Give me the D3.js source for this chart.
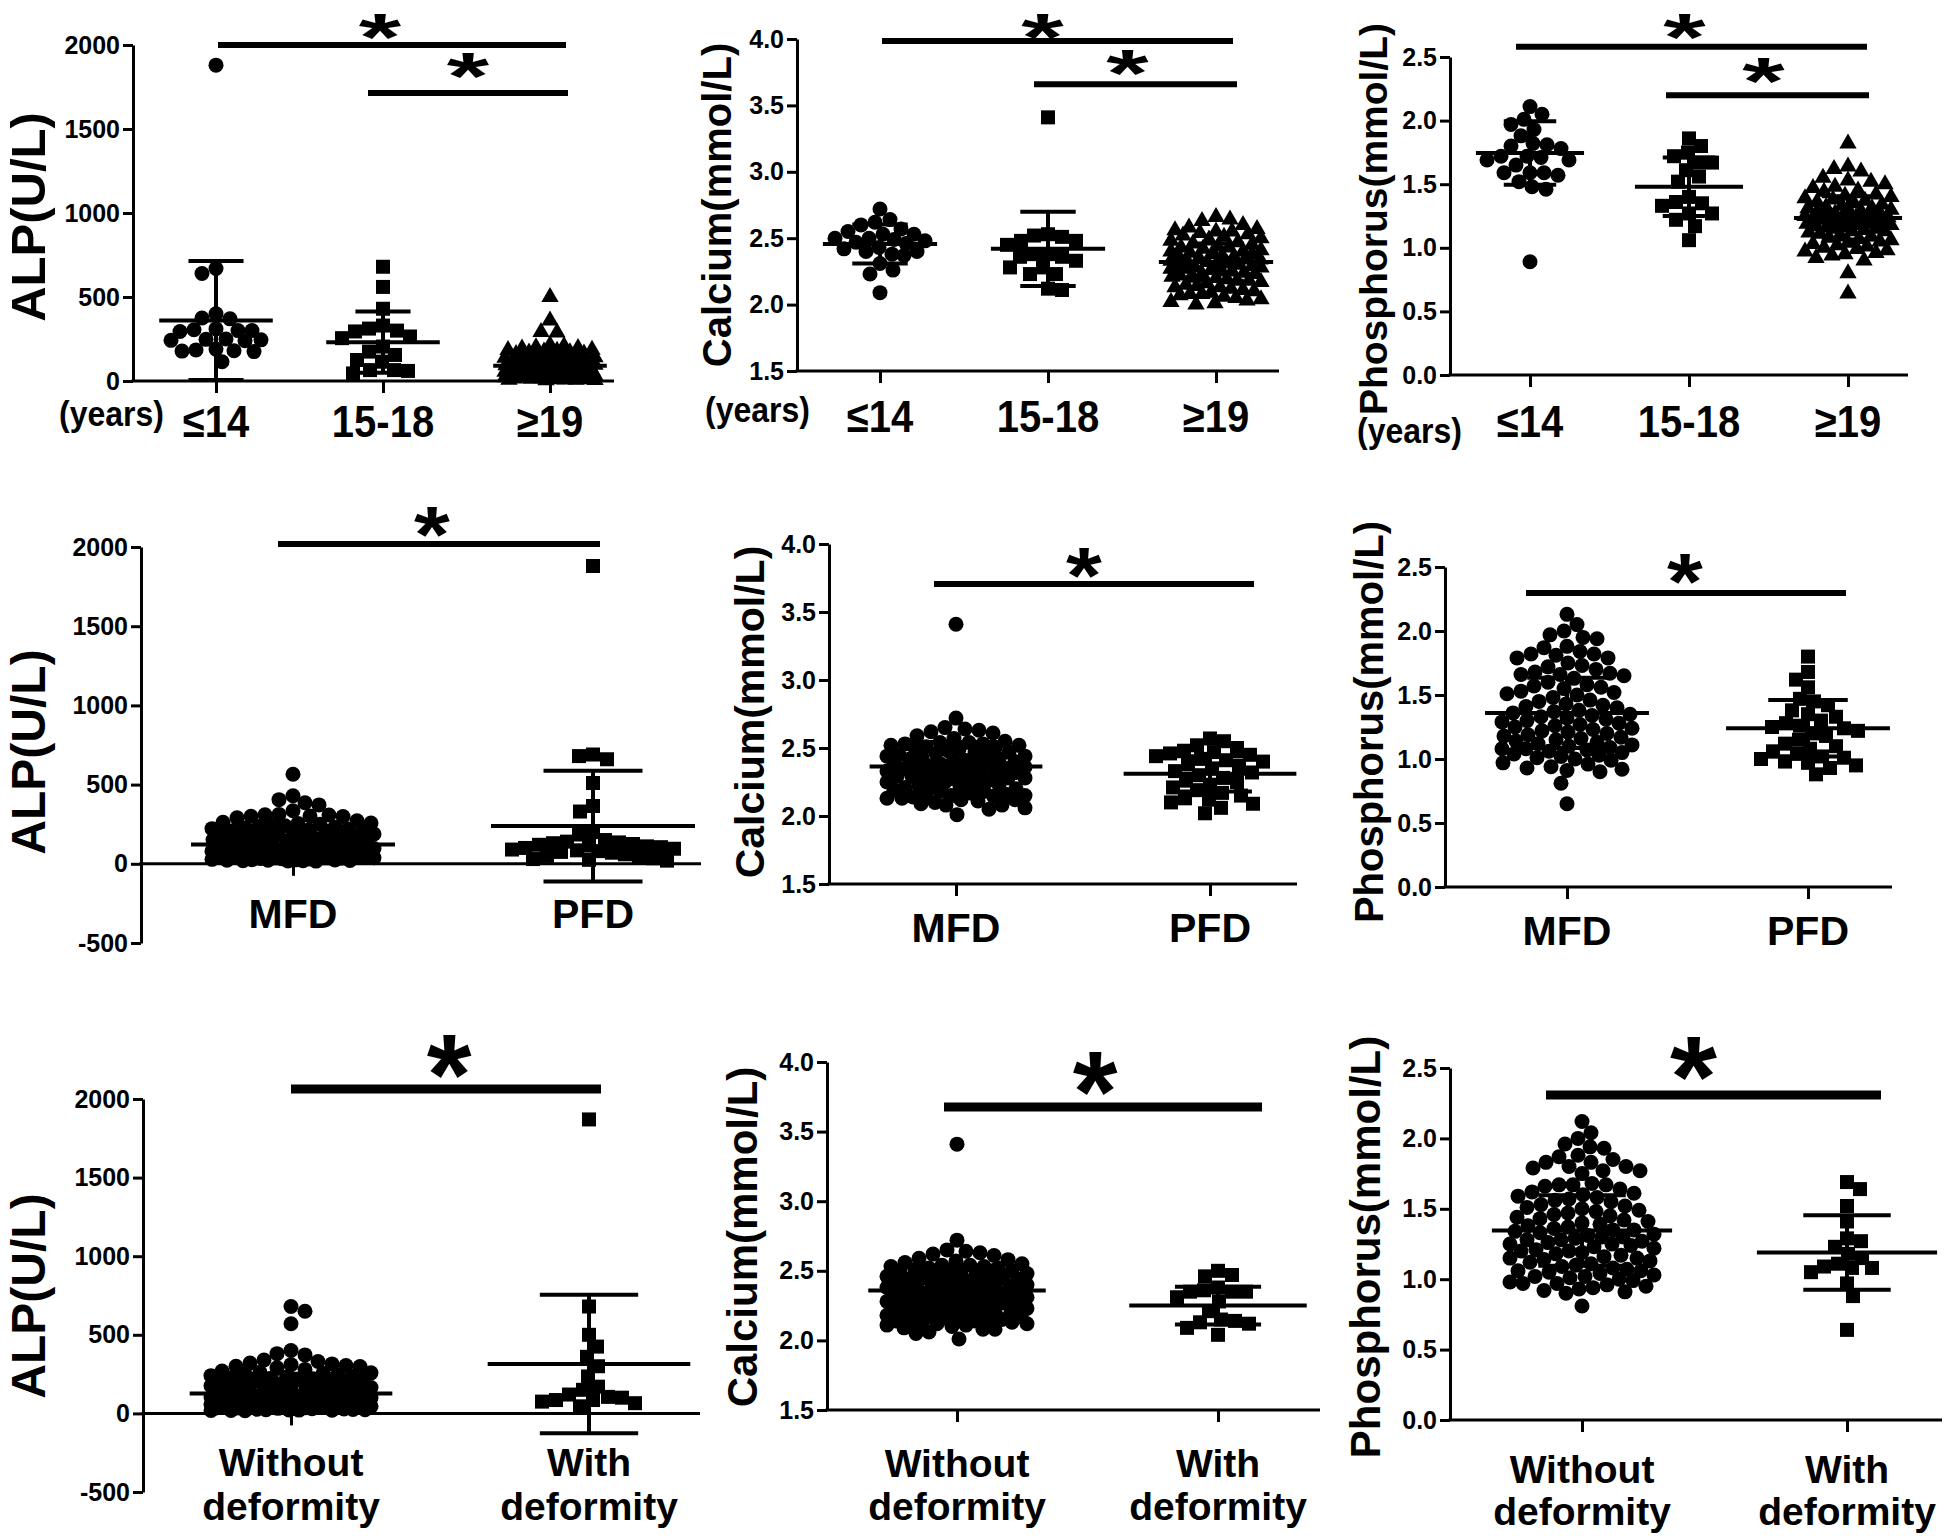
<!DOCTYPE html>
<html><head><meta charset="utf-8">
<script src="https://cdn.jsdelivr.net/npm/d3@7"></script>
<style>
body{margin:0;background:#fff}
svg text{font-family:"Liberation Sans",Arial,Helvetica,sans-serif;font-weight:bold;fill:#000}
</style>
</head><body>
<svg id="c" width="1946" height="1536"></svg>
<script>
// ---------------- DATA ----------------
const ageCats = ["≤14", "15-18", "≥19"];
const typeCats = ["MFD", "PFD"];
const defCats = [["Without", "deformity"], ["With", "deformity"]];

// ALP by age
const alpLe14 = [1880, 670, 640, 400, 375, 370, 310, 305, 300, 300, 295, 250, 248, 245, 242, 240, 190, 185, 180, 178, 175, 115];
const alp1518 = [680, 560, 430, 330, 312, 300, 295, 265, 255, 205, 175, 155, 125, 115, 65, 65, 60, 45];
const alpGe19 = [500, 360, 292, 288, 215, 208, 201, 197, 193, 186, 184, 180, 176, 171, 169, 163, 160, 157, 152, 149, 146, 141, 138, 134, 131, 127, 124, 121, 117, 113, 110, 107, 103, 99, 97, 94, 90, 87, 85, 82, 79, 76, 74, 71, 68, 65, 63, 61, 58, 55, 53, 51, 48, 46, 44, 41, 39, 37, 35, 33, 31, 29, 27, 26, 24, 22, 21, 19, 18, 16, 15, 13, 12, 11, 10, 9, 8, 7, 6, 5];
// Calcium by age
const caLe14 = [2.72, 2.64, 2.62, 2.60, 2.57, 2.55, 2.53, 2.53, 2.50, 2.50, 2.49, 2.48, 2.47, 2.46, 2.43, 2.42, 2.40, 2.40, 2.38, 2.37, 2.31, 2.26, 2.23, 2.09];
const ca1518 = [3.41, 2.53, 2.52, 2.51, 2.48, 2.48, 2.45, 2.38, 2.38, 2.36, 2.36, 2.33, 2.28, 2.28, 2.23, 2.23, 2.12, 2.11];
const caGe19 = [2.66, 2.64, 2.63, 2.60, 2.58, 2.57, 2.56, 2.55, 2.55, 2.54, 2.53, 2.52, 2.51, 2.50, 2.49, 2.48, 2.47, 2.46, 2.45, 2.44, 2.43, 2.43, 2.42, 2.41, 2.40, 2.39, 2.38, 2.38, 2.37, 2.36, 2.35, 2.34, 2.33, 2.33, 2.32, 2.31, 2.30, 2.29, 2.28, 2.28, 2.27, 2.26, 2.25, 2.24, 2.23, 2.23, 2.22, 2.21, 2.20, 2.19, 2.18, 2.18, 2.17, 2.16, 2.15, 2.14, 2.13, 2.13, 2.12, 2.11, 2.10, 2.09, 2.08, 2.08, 2.07, 2.06, 2.05, 2.04, 2.03, 2.02, 2.01, 2.00, 2.34, 2.31, 2.29, 2.36, 2.27, 2.40, 2.22, 2.25];
// Phosphorus by age
const pLe14 = [2.11, 2.05, 2.01, 1.97, 1.93, 1.88, 1.82, 1.81, 1.80, 1.78, 1.72, 1.72, 1.71, 1.69, 1.69, 1.65, 1.59, 1.59, 1.59, 1.57, 1.52, 1.48, 1.46, 0.89];
const p1518 = [1.86, 1.80, 1.75, 1.72, 1.67, 1.67, 1.61, 1.56, 1.52, 1.40, 1.36, 1.35, 1.33, 1.27, 1.27, 1.22, 1.17, 1.06];
const pGe19 = [1.82, 1.64, 1.62, 1.60, 1.55, 1.53, 1.52, 1.50, 1.48, 1.47, 1.45, 1.44, 1.42, 1.41, 1.40, 1.39, 1.38, 1.37, 1.36, 1.35, 1.34, 1.33, 1.32, 1.31, 1.30, 1.29, 1.28, 1.27, 1.26, 1.26, 1.25, 1.24, 1.24, 1.23, 1.22, 1.22, 1.21, 1.20, 1.20, 1.19, 1.18, 1.18, 1.17, 1.16, 1.15, 1.15, 1.14, 1.13, 1.12, 1.11, 1.10, 1.09, 1.08, 1.07, 1.06, 1.05, 1.04, 1.03, 1.02, 1.01, 1.00, 0.99, 0.98, 0.97, 0.96, 0.95, 0.94, 0.92, 0.90, 0.80, 0.64, 1.25, 1.28, 1.21, 1.19, 1.31, 1.16, 1.23, 1.27, 1.13];

// ALP by type
const alpMFD = [565, 430, 405, 385, 372, 335, 312, 310, 308, 302, 300, 298, 290, 272, 262, 258, 255, 250, 246, 240, 236, 231, 226, 222, 218, 214, 209, 205, 200, 196, 192, 188, 184, 180, 176, 172, 168, 164, 160, 156, 152, 148, 144, 140, 136, 132, 128, 124, 120, 116, 112, 108, 104, 100, 96, 92, 88, 84, 80, 77, 74, 71, 68, 65, 62, 59, 56, 53, 50, 48, 46, 44, 42, 40, 38, 36, 34, 32, 30, 28, 26, 25, 24, 23, 22, 21, 20, 19, 18, 17];
const alpPFD = [1880, 690, 680, 660, 510, 365, 330, 200, 185, 150, 140, 135, 130, 125, 120, 115, 110, 105, 100, 95, 90, 85, 80, 75, 70, 60, 50, 40, 35, 30, 25, 20];
const caMFD = [3.41, 2.72, 2.65, 2.64, 2.63, 2.62, 2.61, 2.59, 2.57, 2.55, 2.54, 2.54, 2.53, 2.53, 2.52, 2.52, 2.51, 2.50, 2.49, 2.48, 2.47, 2.46, 2.45, 2.45, 2.44, 2.43, 2.42, 2.42, 2.41, 2.40, 2.40, 2.39, 2.38, 2.37, 2.37, 2.36, 2.35, 2.35, 2.34, 2.33, 2.33, 2.32, 2.31, 2.30, 2.30, 2.29, 2.28, 2.28, 2.27, 2.26, 2.25, 2.25, 2.24, 2.23, 2.23, 2.22, 2.21, 2.20, 2.20, 2.19, 2.18, 2.18, 2.17, 2.16, 2.16, 2.15, 2.15, 2.14, 2.14, 2.13, 2.13, 2.12, 2.12, 2.11, 2.10, 2.09, 2.08, 2.08, 2.06, 2.05, 2.01, 2.36, 2.38, 2.34, 2.31, 2.29, 2.27, 2.44, 2.47, 2.50];
const caPFD = [2.57, 2.55, 2.52, 2.50, 2.48, 2.47, 2.46, 2.45, 2.44, 2.42, 2.41, 2.40, 2.38, 2.37, 2.35, 2.33, 2.32, 2.30, 2.28, 2.26, 2.25, 2.23, 2.21, 2.19, 2.17, 2.15, 2.13, 2.12, 2.10, 2.09, 2.06, 2.02];
const pMFD = [2.13, 2.05, 2.00, 1.97, 1.95, 1.94, 1.88, 1.87, 1.84, 1.82, 1.82, 1.81, 1.79, 1.79, 1.75, 1.73, 1.72, 1.70, 1.68, 1.67, 1.66, 1.66, 1.65, 1.63, 1.60, 1.58, 1.57, 1.56, 1.55,
  1.53, 1.52, 1.51, 1.50, 1.48, 1.46, 1.45, 1.43, 1.42, 1.41, 1.40, 1.38, 1.37, 1.36, 1.35, 1.34, 1.33, 1.32, 1.31, 1.30, 1.29, 1.28, 1.27, 1.26, 1.25, 1.24, 1.23, 1.22, 1.21, 1.20, 1.19, 1.18, 1.17, 1.16, 1.15, 1.14, 1.13, 1.12, 1.11, 1.10,
  1.09, 1.08, 1.07, 1.06, 1.05, 1.04, 1.03, 1.02, 1.01, 1.00, 0.99, 0.97, 0.96, 0.94, 0.92, 0.90, 0.91, 0.93, 0.81, 0.65, 1.08];
const pPFD = [1.80, 1.68, 1.62, 1.56, 1.47, 1.45, 1.42, 1.38, 1.35, 1.33, 1.30, 1.28, 1.26, 1.25, 1.24, 1.22, 1.20, 1.18, 1.15, 1.12, 1.10, 1.08, 1.06, 1.04, 1.02, 1.01, 1.00, 0.98, 0.97, 0.95, 0.93, 0.88];

// by deformity
const alpWithout = [680, 650, 570, 400, 380, 372, 340, 330, 320, 315, 310, 305, 300, 298, 290, 280, 270, 262, 258, 255, 250, 246, 240, 236, 232, 228, 224, 220, 216, 212, 208, 204, 200, 196, 192, 188, 184, 180, 176, 172, 168, 164, 160, 156, 152, 148, 144, 140, 136, 132, 128, 124, 120, 116, 112, 108, 104, 100, 96, 92, 88, 84, 80, 77, 74, 71, 68, 65, 62, 59, 56, 53, 50, 48, 46, 44, 42, 40, 38, 36, 34, 32, 30, 28, 26, 25, 24, 23, 22, 21, 20, 19, 18, 17, 60, 55, 45, 52, 58, 64, 70, 75, 35, 41, 47];
const alpWith = [1870, 680, 500, 425, 360, 300, 235, 170, 150, 120, 105, 100, 85, 85, 75, 65, 45];
const caWithout = [3.41, 2.72, 2.65, 2.64, 2.63, 2.62, 2.61, 2.59, 2.58, 2.57, 2.56, 2.55, 2.54, 2.54, 2.53, 2.53, 2.52, 2.52, 2.51, 2.50, 2.49, 2.49, 2.48, 2.47, 2.46, 2.46, 2.45, 2.45, 2.44, 2.43, 2.43, 2.42, 2.42, 2.41, 2.40, 2.40, 2.39, 2.39, 2.38, 2.37, 2.37, 2.36, 2.35, 2.35, 2.35, 2.34, 2.33, 2.33, 2.32, 2.32, 2.31, 2.30, 2.30, 2.29, 2.28, 2.28, 2.28, 2.27, 2.26, 2.25, 2.25, 2.24, 2.24, 2.23, 2.23, 2.22, 2.21, 2.21, 2.20, 2.20, 2.19, 2.19, 2.18, 2.18, 2.17, 2.17, 2.16, 2.16, 2.15, 2.15, 2.14, 2.14, 2.14, 2.13, 2.13, 2.12, 2.12, 2.11, 2.11, 2.10, 2.09, 2.08, 2.08, 2.06, 2.05, 2.01, 2.36, 2.38, 2.34, 2.31, 2.29, 2.27, 2.44, 2.47, 2.50];
const caWith = [2.50, 2.47, 2.46, 2.38, 2.36, 2.35, 2.35, 2.35, 2.31, 2.28, 2.21, 2.15, 2.14, 2.13, 2.12, 2.09, 2.04];
const pWithout = [2.12, 2.04, 2.00, 1.96, 1.94, 1.93, 1.88, 1.87, 1.85, 1.83, 1.83, 1.80, 1.80, 1.79, 1.77, 1.77, 1.75, 1.68, 1.67, 1.67, 1.67, 1.66, 1.64, 1.61, 1.60, 1.59, 1.58, 1.57, 1.56, 1.55, 1.62,
  1.53, 1.52, 1.51, 1.50, 1.49, 1.48, 1.47, 1.46, 1.45, 1.44, 1.43, 1.42, 1.41, 1.40, 1.39, 1.38, 1.37, 1.36, 1.35, 1.34, 1.33, 1.32, 1.31, 1.30, 1.29, 1.28, 1.27, 1.26, 1.25, 1.24, 1.23, 1.22, 1.21, 1.20, 1.19, 1.18, 1.17, 1.16, 1.15, 1.14, 1.13, 1.12, 1.11, 1.10, 1.35, 1.30, 1.25, 1.20, 1.15, 1.28,
  1.09, 1.08, 1.07, 1.06, 1.05, 1.04, 1.03, 1.02, 1.01, 1.00, 0.99, 0.98, 0.97, 0.96, 0.95, 0.94, 0.93, 0.92, 0.91, 0.90, 0.97, 1.02, 1.06, 0.81];
const pWith = [1.69, 1.64, 1.52, 1.41, 1.29, 1.27, 1.23, 1.18, 1.15, 1.11, 1.08, 1.08, 1.09, 1.05, 0.97, 0.88, 0.64];

// group means and SDs
const meanAlpAge = [360, 231, 91],      sdAlpAge = [354, 182, 68];
const meanCaAge = [2.456, 2.42, 2.32],  sdCaAge = [0.147, 0.28, 0.14];
const meanPAge = [1.745, 1.48, 1.235],  sdPAge = [0.25, 0.23, 0.17];
const meanAlpType = [122, 238],         sdAlpType = [118, 350];
const meanCaType = [2.364, 2.31],       sdCaType = [0.18, 0.13];
const meanPType = [1.36, 1.24],         sdPType = [0.275, 0.22];
const meanAlpDef = [127, 314],          sdAlpDef = [125, 440];
const meanCaDef = [2.358, 2.25],        sdCaDef = [0.18, 0.135];
const meanPDef = [1.346, 1.19],         sdPDef = [0.25, 0.265];

// axis ticks
const alpTicks3 = [0, 500, 1000, 1500, 2000];
const alpTicks = [-500, 0, 500, 1000, 1500, 2000];
const caTicks = [1.5, 2.0, 2.5, 3.0, 3.5, 4.0];
const pTicks = [0.0, 0.5, 1.0, 1.5, 2.0, 2.5];

// significance bars: [from group, to group, value]
const sigAlpAge = [[0, 2, 2000], [1, 2, 1714]];
const sigCaAge = [[0, 2, 3.985], [1, 2, 3.66]];
const sigPAge = [[0, 2, 2.58], [1, 2, 2.20]];
const sigAlpType = [[0, 1, 2019]];
const sigCaType = [[0, 1, 3.706]];
const sigPType = [[0, 1, 2.297]];
const sigAlpDef = [[0, 1, 2064]];
const sigCaDef = [[0, 1, 3.677]];
const sigPDef = [[0, 1, 2.308]];

// ---------------- LAYOUT ----------------
const fAlp = d => (d < 0 ? "-" + Math.abs(d) : String(d));
const fDec = d3.format(".1f");
const shapes3 = [d3.symbolCircle, d3.symbolSquare, d3.symbolTriangle];
const shapes2 = [d3.symbolCircle, d3.symbolSquare];

// sigDx: [bar start dx, bar end dx, star dx, star centre above bar]
const panels = [
  {title: "ALP(U/L)", cats: ageCats, groups: [alpLe14, alp1518, alpGe19], means: meanAlpAge, sds: sdAlpAge, sig: sigAlpAge,
   domain: [0, 2000], ticks: alpTicks3, fmt: fAlp, shapes: shapes3,
   axisX: 133, xEnd: 614, yTop: 45, yBot: 381, cat0: 216, catN: 550,
   tX: 45, tY: 217, tFs: 49, catBase: [437], catFs: 40, catSy: 1.12, years: {x: 164, y: 426},
   sigDx: [[2, 16, -12, 16], [-15, 18, 0, 25]], astFs: 66, astSx: 1.65, barW: 6},
  {title: "Calcium(mmol/L)", cats: ageCats, groups: [caLe14, ca1518, caGe19], means: meanCaAge, sds: sdCaAge, sig: sigCaAge,
   domain: [1.5, 4.0], ticks: caTicks, fmt: fDec, shapes: shapes3,
   axisX: 797, xEnd: 1279, yTop: 39, yBot: 371, cat0: 880, catN: 1216,
   tX: 731, tY: 205, tFs: 40, catBase: [432], catFs: 40, catSy: 1.12, years: {x: 810, y: 422},
   sigDx: [[2, 17, -15, 12], [-14, 21, -8, 19]], astFs: 66, astSx: 1.65, barW: 6},
  {title: "Phosphorus(mmol/L)", cats: ageCats, groups: [pLe14, p1518, pGe19], means: meanPAge, sds: sdPAge, sig: sigPAge,
   domain: [0, 2.5], ticks: pTicks, fmt: fDec, shapes: shapes3,
   axisX: 1450, xEnd: 1908, yTop: 57, yBot: 375, cat0: 1530, catN: 1848,
   tX: 1387, tY: 219, tFs: 39, catBase: [437], catFs: 40, catSy: 1.12, years: {x: 1462, y: 443},
   sigDx: [[-14, 19, -7, 18], [-23, 21, -4, 22]], astFs: 66, astSx: 1.65, barW: 6},

  {title: "ALP(U/L)", cats: typeCats, groups: [alpMFD, alpPFD], means: meanAlpType, sds: sdAlpType, sig: sigAlpType,
   domain: [-500, 2000], ticks: alpTicks, fmt: fAlp, shapes: shapes2,
   axisX: 141, xEnd: 701, yTop: 547, yBot: 943, cat0: 293, catN: 593,
   tX: 45, tY: 752, tFs: 48, catBase: [928], catFs: 41, catSy: 1.0,
   sigDx: [[-15, 7, -7, 20]], astFs: 80, astSx: 1.15, barW: 6},
  {title: "Calcium(mmol/L)", cats: typeCats, groups: [caMFD, caPFD], means: meanCaType, sds: sdCaType, sig: sigCaType,
   domain: [1.5, 4.0], ticks: caTicks, fmt: fDec, shapes: shapes2,
   axisX: 829, xEnd: 1297, yTop: 544, yBot: 884, cat0: 956, catN: 1210,
   tX: 764, tY: 712, tFs: 41, catBase: [942], catFs: 41, catSy: 1.0,
   sigDx: [[-22, 44, -10, 19]], astFs: 80, astSx: 1.15, barW: 6},
  {title: "Phosphorus(mmol/L)", cats: typeCats, groups: [pMFD, pPFD], means: meanPType, sds: sdPType, sig: sigPType,
   domain: [0, 2.5], ticks: pTicks, fmt: fDec, shapes: shapes2,
   axisX: 1445, xEnd: 1892, yTop: 567, yBot: 887, cat0: 1567, catN: 1808,
   tX: 1383, tY: 722, tFs: 40, catBase: [945], catFs: 41, catSy: 1.0,
   sigDx: [[-41, 38, -1, 22]], astFs: 80, astSx: 1.15, barW: 6},

  {title: "ALP(U/L)", cats: defCats, groups: [alpWithout, alpWith], means: meanAlpDef, sds: sdAlpDef, sig: sigAlpDef,
   domain: [-500, 2000], ticks: alpTicks, fmt: fAlp, shapes: shapes2,
   axisX: 143, xEnd: 700, yTop: 1099, yBot: 1492, cat0: 291, catN: 589,
   tX: 45, tY: 1296, tFs: 48, catBase: [1476, 1520], catFs: 39, catSy: 1.0,
   sigDx: [[0, 12, 3, 29]], astFs: 115, astSx: 1.0, barW: 9},
  {title: "Calcium(mmol/L)", cats: defCats, groups: [caWithout, caWith], means: meanCaDef, sds: sdCaDef, sig: sigCaDef,
   domain: [1.5, 4.0], ticks: caTicks, fmt: fDec, shapes: shapes2,
   axisX: 827, xEnd: 1320, yTop: 1062, yBot: 1410, cat0: 957, catN: 1218,
   tX: 757, tY: 1237, tFs: 42, catBase: [1477, 1520], catFs: 39, catSy: 1.0,
   sigDx: [[-13, 44, -8, 30]], astFs: 115, astSx: 1.0, barW: 9},
  {title: "Phosphorus(mmol/L)", cats: defCats, groups: [pWithout, pWith], means: meanPDef, sds: sdPDef, sig: sigPDef,
   domain: [0, 2.5], ticks: pTicks, fmt: fDec, shapes: shapes2,
   axisX: 1450, xEnd: 1942, yTop: 1068, yBot: 1420, cat0: 1582, catN: 1847,
   tX: 1380, tY: 1247, tFs: 42, catBase: [1483, 1525], catFs: 39, catSy: 1.0,
   sigDx: [[-36, 34, -20, 33]], astFs: 115, astSx: 1.05, barW: 9}
];

// ---------------- DRAW ----------------
const svg = d3.select("#c");
const MS = 15; // marker size (px)

function swarm(vals, y, cx, maxHalf, m) {
  const pts = vals.map(v => ({v: v, py: y(v)})).sort((a, b) => a.py - b.py);
  const placed = [];
  let flip = 1;
  pts.forEach(p => {
    const near = placed.filter(q => Math.abs(q.py - p.py) < m);
    let best = null, fb = 0, fbScore = -1;
    for (let k = 0; k <= 2 * maxHalf; k++) {
      const dx = (k % 2 === 0 ? 1 : -1) * flip * Math.ceil(k / 2);
      if (Math.abs(dx) > maxHalf) continue;
      let md = Infinity;
      near.forEach(q => { const d = Math.hypot(q.dx - dx, q.py - p.py); if (d < md) md = d; });
      if (md >= m * 0.93) { best = dx; break; }
      if (md > fbScore + 0.01) { fbScore = md; fb = dx; }
    }
    p.dx = best !== null ? best : fb;
    flip = -flip;
    placed.push(p);
  });
  return placed.map(p => ({x: cx + p.dx, y: p.py}));
}

panels.forEach(P => {
  const g = svg.append("g");
  const y = d3.scaleLinear().domain(P.domain).range([P.yBot, P.yTop]);
  const x = d3.scalePoint().domain(d3.range(P.cats.length)).range([P.cat0, P.catN]);
  const spacing = (P.catN - P.cat0) / (P.cats.length - 1);
  const baseV = P.domain[0] < 0 ? 0 : P.domain[0];

  // y axis
  const yg = g.append("g").attr("transform", `translate(${P.axisX},0)`)
    .call(d3.axisLeft(y).tickValues(P.ticks).tickFormat(P.fmt).tickSize(10).tickSizeOuter(0).tickPadding(3));
  yg.select(".domain").attr("stroke", "#000").attr("stroke-width", 3);
  yg.selectAll(".tick line").attr("stroke", "#000").attr("stroke-width", 3);
  yg.selectAll(".tick text").style("font-size", "25px");

  // x axis
  const xg = g.append("g").attr("transform", `translate(0,${y(baseV)})`)
    .call(d3.axisBottom(x).tickSize(12).tickSizeOuter(0).tickFormat(""));
  xg.select(".domain").remove();
  xg.selectAll(".tick line").attr("stroke", "#000").attr("stroke-width", 3);
  g.append("line").attr("x1", P.axisX - 1.5).attr("x2", P.xEnd)
    .attr("y1", y(baseV)).attr("y2", y(baseV)).attr("stroke", "#000").attr("stroke-width", 3);

  // y title
  g.append("text").attr("transform", `translate(${P.tX},${P.tY}) rotate(-90)`)
    .attr("text-anchor", "middle").style("font-size", P.tFs + "px").text(P.title);

  // category labels
  P.cats.forEach((c, i) => {
    const lines = Array.isArray(c) ? c : [c];
    lines.forEach((t, li) => {
      g.append("text").attr("transform", `translate(${x(i)},${P.catBase[li]}) scale(1,${P.catSy})`)
        .attr("text-anchor", "middle").style("font-size", P.catFs + "px").text(t);
    });
  });
  if (P.years) {
    g.append("text").attr("transform", `translate(${P.years.x},${P.years.y}) scale(1,${P.catSy})`)
      .attr("text-anchor", "end").style("font-size", "32px").text("(years)");
  }

  // points
  P.groups.forEach((vals, i) => {
    const pts = swarm(vals, y, x(i), Math.round(spacing * 0.27), MS);
    const shape = P.shapes[i];
    const area = shape === d3.symbolCircle ? Math.PI * 7.5 * 7.5 : shape === d3.symbolSquare ? 14 * 14 : 130;
    const sym = d3.symbol().type(shape).size(area);
    g.append("g").selectAll("path").data(pts).join("path")
      .attr("d", sym).attr("transform", d => `translate(${d.x},${d.y})`).attr("fill", "#000");
  });

  // mean and SD
  P.means.forEach((m, i) => {
    const cx = x(i), s = P.sds[i];
    const mw = spacing * 0.34, cw = spacing * 0.165;
    const eg = g.append("g").attr("stroke", "#000").attr("stroke-width", 4);
    eg.append("line").attr("x1", cx).attr("x2", cx).attr("y1", y(m - s)).attr("y2", y(m + s));
    eg.append("line").attr("x1", cx - cw).attr("x2", cx + cw).attr("y1", y(m + s)).attr("y2", y(m + s));
    eg.append("line").attr("x1", cx - cw).attr("x2", cx + cw).attr("y1", y(m - s)).attr("y2", y(m - s));
    eg.append("line").attr("x1", cx - mw).attr("x2", cx + mw).attr("y1", y(m)).attr("y2", y(m));
  });

  // significance bars with asterisks
  P.sig.forEach((s, k) => {
    const [a, b, v] = s;
    const [d0, d1, adx, ady] = P.sigDx[k];
    const x0 = x(a) + d0, x1 = x(b) + d1, yy = y(v);
    g.append("line").attr("x1", x0).attr("x2", x1).attr("y1", yy).attr("y2", yy)
      .attr("stroke", "#000").attr("stroke-width", P.barW);
    const cy = yy - ady;
    g.append("text")
      .attr("transform", `translate(${(x0 + x1) / 2 + adx},${cy + 0.47 * P.astFs}) scale(${P.astSx},1)`)
      .attr("text-anchor", "middle").style("font-size", P.astFs + "px").text("*");
  });
});
</script>
</body></html>
